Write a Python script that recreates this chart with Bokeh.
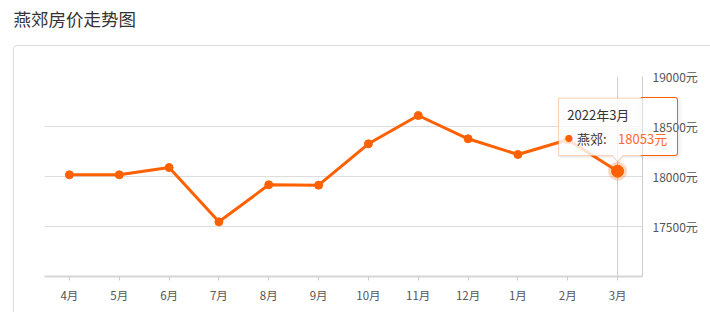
from bokeh.plotting import figure
from bokeh.models import (Range1d, FactorRange, FixedTicker, Label, PolyAnnotation, Span,
                          InlineStyleSheet)
from bokeh.embed import file_html
from bokeh.resources import INLINE

# ---- data ----
title_text = "燕郊房价走势图"
series_name = "燕郊"
months = ["4月", "5月", "6月", "7月", "8月", "9月", "10月", "11月", "12月", "1月", "2月", "3月"]
prices = [18017, 18017, 18090, 17547, 17917, 17913, 18327, 18610, 18377, 18220, 18367, 18053]
y_ticks = [17500, 18000, 18500, 19000]
unit = "元"
tooltip_title = "2022年3月"

# ---- layout ----
W, H = 710, 312
FL, FR, FT, FB = 44, 642, 76, 276
Y0, Y1 = 17000, 19000
ORANGE = "#ff6000"
FONT = "Noto Sans CJK SC"
TITLE_SLOT = 25.5  # height taken by the title label in the "above" panel

# screen coordinates relative to the frame (x from frame left, y up from frame bottom)
def sx(px):
    return px - FL

def sy(py):
    return FB - py

# screen coordinates relative to a slot of the "above" panel
def ay(py, slot_bottom=FT):
    return slot_bottom - py

# tooltip box geometry, anchored at the last point's screen position
lx = len(months) - 0.5
lpx = FL + (lx / len(months)) * (FR - FL)
lpy = FB - (prices[-1] - Y0) / (Y1 - Y0) * (FB - FT)
bl, br, bt, bb = lpx - 59, lpx + 60, lpy - 73, lpy - 15.5

# decorative card border and the part of the tooltip outline beyond the frame (CSS overlay)
css = f"""
:host::before {{
  content: ""; position: absolute; left: 13px; top: 45px; width: {W + 40}px; height: {H + 40}px;
  border: 1px solid #dcdcdc; border-radius: 4px; box-sizing: border-box;
  pointer-events: none; z-index: 5;
}}
:host::after {{
  content: ""; position: absolute; left: {FR - 1}px; top: {bt - 0.5:.1f}px;
  width: {br - FR + 1.5:.1f}px; height: {bb - bt + 1:.1f}px;
  border: 1px solid {ORANGE}; border-left: none; border-radius: 0 3px 3px 0;
  box-sizing: border-box; pointer-events: none; z-index: 5;
  box-shadow: 2px 2px 4px rgba(0,0,0,0.08);
}}
"""

p = figure(width=W, height=H, x_range=FactorRange(factors=months, range_padding=0),
           y_range=Range1d(Y0, Y1), y_axis_location="right",
           output_backend="svg", toolbar_location=None,
           min_border_left=FL, min_border_right=W - FR, min_border_top=FT, min_border_bottom=H - FB,
           stylesheets=[InlineStyleSheet(css=css)])
p.outline_line_color = None
p.background_fill_color = "white"
p.border_fill_color = "white"

# axes
xa = p.xaxis[0]
xa.axis_line_color = "#d6d6d6"
xa.axis_line_width = 2
xa.major_tick_line_color = "#cccccc"
xa.major_tick_out = 4
xa.major_tick_in = 0
xa.minor_tick_line_color = None
xa.major_label_text_font = FONT
xa.major_label_text_font_size = "11.5px"
xa.major_label_text_color = "#555555"
xa.major_label_standoff = 6

ya = p.yaxis[0]
ya.ticker = FixedTicker(ticks=y_ticks)
ya.major_label_overrides = {t: f"{t}{unit}" for t in y_ticks}
ya.axis_line_color = "#cccccc"
ya.major_tick_line_color = None
ya.major_tick_out = 0
ya.major_tick_in = 0
ya.minor_tick_line_color = None
ya.minor_tick_out = 0
ya.major_label_text_font = FONT
ya.major_label_text_font_size = "12px"
ya.major_label_text_color = "#555555"
ya.major_label_standoff = 10

p.xgrid.grid_line_color = None
p.ygrid.ticker = FixedTicker(ticks=y_ticks)
p.ygrid.grid_line_color = "#dddddd"

# crosshair on last month
p.add_layout(Span(location=len(months) - 0.5, dimension="height",
                  line_color="#cccccc", line_width=1, level="underlay"))

# series
p.line(x=months, y=prices, line_color=ORANGE, line_width=3)
p.scatter(x=months, y=prices, size=8, fill_color=ORANGE, line_color=ORANGE)
# highlighted last point
p.scatter(x=[months[-1]], y=[prices[-1]], size=19, fill_color=ORANGE, fill_alpha=0.25,
          line_color=None)
p.scatter(x=[months[-1]], y=[prices[-1]], size=12, fill_color=ORANGE, line_color=ORANGE)

# ---- title (first in "above": slot bottom = frame top) ----
p.add_layout(Label(x=13 - FL, y=ay(17.5), x_units="screen", y_units="screen",
                   text=title_text, text_font=FONT,
                   text_font_size="17.5px", text_color="#333333",
                   text_align="left", text_baseline="middle"), "above")

# ---- tooltip box (inside the frame) ----
ax_, tip = 5, lpy - 9.5
xs_px = [bl, br, br, lpx + ax_, lpx, lpx - ax_, bl]
ys_px = [bt, bt, bb, bb, tip, bb, bb]
p.add_layout(PolyAnnotation(xs=[sx(x + 1) for x in xs_px], ys=[sy(y + 2) for y in ys_px],
                            xs_units="screen", ys_units="screen",
                            fill_color="black", fill_alpha=0.06, line_color=None,
                            level="annotation"), "above")
p.add_layout(PolyAnnotation(xs=[sx(x) for x in xs_px], ys=[sy(y) for y in ys_px],
                            xs_units="screen", ys_units="screen",
                            fill_color="white", fill_alpha=0.82,
                            line_color=ORANGE, line_width=1, level="annotation"), "above")

# tooltip value (extends beyond the frame -> side panel, second slot)
p.add_layout(Label(x=bl + 59.5 - FL, y=ay(bt + 40, FT - TITLE_SLOT),
                   x_units="screen", y_units="screen",
                   text=f"{prices[-1]}{unit}", text_font=FONT,
                   text_font_size="13px", text_color="#ff6a2a",
                   text_align="left", text_baseline="middle", level="overlay"), "above")

# tooltip texts inside the frame
p.add_layout(Label(x=sx(bl + 8.7), y=sy(bt + 16.2), x_units="screen", y_units="screen",
                   text=tooltip_title, text_font=FONT,
                   text_font_size="13px", text_color="#333333",
                   text_align="left", text_baseline="middle", level="overlay"))
p.add_layout(Label(x=sx(bl + 10.3), y=sy(bt + 40.5), x_units="screen", y_units="screen",
                   text="●", text_font=FONT,
                   text_font_size="8px", text_color=ORANGE,
                   text_align="center", text_baseline="middle", level="overlay"))
p.add_layout(Label(x=sx(bl + 18.5), y=sy(bt + 40), x_units="screen", y_units="screen",
                   text=f"{series_name}:", text_font=FONT,
                   text_font_size="13px", text_color="#333333",
                   text_align="left", text_baseline="middle", level="overlay"))

open("out.html", "w").write(file_html(p, INLINE))
